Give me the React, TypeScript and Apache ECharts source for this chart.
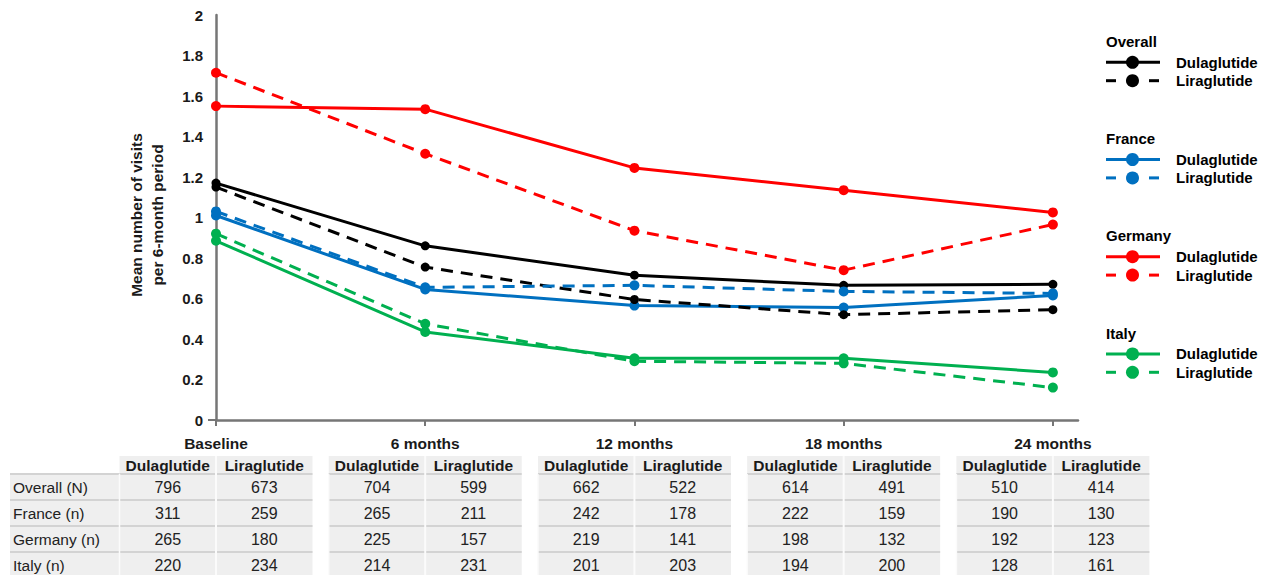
import React, { useEffect, useRef } from "react";
import * as echarts from "echarts";

// Timepoints on the x axis
const timepoints = ["Baseline", "6 months", "12 months", "18 months", "24 months"];
const xPositions = [0, 1, 2, 3, 4];

// Groups, colours and treatments
const groups = ["Overall", "France", "Germany", "Italy"];
const groupColors = ["#000000", "#0070C0", "#FF0000", "#00B050"];
const treatments = ["Dulaglutide", "Liraglutide"];

// Mean number of visits per 6-month period
const overallDula = [1.17, 0.86, 0.715, 0.665, 0.67];
const overallLira = [1.15, 0.755, 0.595, 0.52, 0.545];
const franceDula = [1.01, 0.645, 0.565, 0.555, 0.615];
const franceLira = [1.03, 0.655, 0.665, 0.635, 0.625];
const germanyDula = [1.55, 1.535, 1.245, 1.135, 1.025];
const germanyLira = [1.715, 1.315, 0.935, 0.74, 0.965];
const italyDula = [0.885, 0.435, 0.305, 0.305, 0.235];
const italyLira = [0.92, 0.475, 0.29, 0.28, 0.16];

// Patient counts per timepoint
const rowLabels = ["Overall (N)", "France (n)", "Germany (n)", "Italy (n)"];
const overallNDula = [796, 704, 662, 614, 510];
const overallNLira = [673, 599, 522, 491, 414];
const franceNDula = [311, 265, 242, 222, 190];
const franceNLira = [259, 211, 178, 159, 130];
const germanyNDula = [265, 225, 219, 198, 192];
const germanyNLira = [180, 157, 141, 132, 123];
const italyNDula = [220, 214, 201, 194, 128];
const italyNLira = [234, 231, 203, 200, 161];

const yTicks = [0, 0.2, 0.4, 0.6, 0.8, 1, 1.2, 1.4, 1.6, 1.8, 2];

const FONT = "'Liberation Sans', Arial, sans-serif";
const AXIS_COLOR = "#767676";
const TEXT_COLOR = "#1a1a1a";
const DASH = [12, 8];

const meanSeries = [
  [overallDula, overallLira],
  [franceDula, franceLira],
  [germanyDula, germanyLira],
  [italyDula, italyLira],
];
const countRows = [
  [overallNDula, overallNLira],
  [franceNDula, franceNLira],
  [germanyNDula, germanyNLira],
  [italyNDula, italyNLira],
];

function buildSeries() {
  const out: any[] = [];
  groups.forEach((g, gi) => {
    treatments.forEach((t, ti) => {
      out.push({
        name: `${g} ${t}`,
        type: "line",
        data: meanSeries[gi][ti].map((v, i) => [xPositions[i], v]),
        symbol: "circle",
        symbolSize: gi === 0 ? 9 : 10,
        lineStyle: { color: groupColors[gi], width: 3, type: ti === 0 ? "solid" : DASH },
        itemStyle: { color: groupColors[gi] },
        z: 3 + ti,
      });
    });
  });
  return out;
}

function legendGraphics() {
  const els: any[] = [];
  const x0 = 1106;
  groups.forEach((g, gi) => {
    const top = 41.5 + gi * 97.2;
    els.push({
      type: "text",
      x: x0,
      y: top,
      style: { text: g, fill: "#000", fontSize: 15, fontWeight: "bold", fontFamily: FONT, align: "left", verticalAlign: "middle" },
    });
    treatments.forEach((t, ti) => {
      const y = top + (ti === 0 ? 20.8 : 39.2);
      const color = groupColors[gi];
      if (ti === 0) {
        els.push({ type: "line", shape: { x1: x0, y1: y, x2: x0 + 54, y2: y }, style: { stroke: color, lineWidth: 3 } });
      } else {
        els.push({ type: "line", shape: { x1: x0, y1: y, x2: x0 + 10, y2: y }, style: { stroke: color, lineWidth: 3 } });
        els.push({ type: "line", shape: { x1: x0 + 43, y1: y, x2: x0 + 53, y2: y }, style: { stroke: color, lineWidth: 3 } });
      }
      els.push({ type: "circle", shape: { cx: x0 + 26.5, cy: y, r: 6.5 }, style: { fill: color } });
      els.push({
        type: "text",
        x: 1176,
        y,
        style: { text: t, fill: "#000", fontSize: 15, fontWeight: "bold", fontFamily: FONT, align: "left", verticalAlign: "middle" },
      });
    });
  });
  return els;
}

function tableGraphics(cx: number[]) {
  const els: any[] = [];
  const colW = 96.5;
  const headTop = 456;
  const headH = 18;
  const rowH = 26;
  const bodyTop = headTop + headH;
  const bodyBottom = bodyTop + rowH * rowLabels.length;
  const fill = "#efefef";
  const hLine = "#d3d3d3";
  const labelLeft = 10;

  // row label column
  const labelRight = cx[0] - colW;
  els.push({ type: "rect", shape: { x: labelLeft, y: bodyTop, width: labelRight - labelLeft, height: bodyBottom - bodyTop }, style: { fill } });
  rowLabels.forEach((lab, r) => {
    els.push({
      type: "text",
      x: labelLeft + 3,
      y: bodyTop + rowH * r + rowH / 2,
      style: { text: lab, fill: "#222", fontSize: 15.5, fontFamily: FONT, align: "left", verticalAlign: "middle" },
    });
  });
  for (let r = 0; r < rowLabels.length; r++) {
    els.push({ type: "line", shape: { x1: labelLeft, y1: bodyTop + rowH * r, x2: labelRight, y2: bodyTop + rowH * r }, style: { stroke: hLine, lineWidth: 2 } });
  }

  cx.forEach((c, i) => {
    const left = c - colW;
    const right = c + colW;
    els.push({ type: "rect", shape: { x: left, y: headTop, width: right - left, height: bodyBottom - headTop }, style: { fill } });
    for (let r = 0; r < rowLabels.length; r++) {
      els.push({ type: "line", shape: { x1: left, y1: bodyTop + rowH * r, x2: right, y2: bodyTop + rowH * r }, style: { stroke: hLine, lineWidth: 2 } });
    }
    els.push({ type: "line", shape: { x1: c, y1: headTop, x2: c, y2: bodyBottom }, style: { stroke: "#fbfbfb", lineWidth: 2 } });
    els.push({ type: "line", shape: { x1: left, y1: bodyTop, x2: left, y2: bodyBottom }, style: { stroke: "#fbfbfb", lineWidth: 1.5 } });
    treatments.forEach((t, ti) => {
      const mid = ti === 0 ? c - colW / 2 : c + colW / 2;
      els.push({
        type: "text",
        x: mid,
        y: headTop + headH / 2 + 0.5,
        style: { text: t, fill: "#1a1a1a", fontSize: 15.5, fontWeight: "bold", fontFamily: FONT, align: "center", verticalAlign: "middle" },
      });
      countRows.forEach((row, r) => {
        els.push({
          type: "text",
          x: mid,
          y: bodyTop + rowH * r + rowH / 2,
          style: { text: String(row[ti][i]), fill: "#222", fontSize: 16, fontFamily: FONT, align: "center", verticalAlign: "middle" },
        });
      });
    });
  });
  return els;
}

export default function App() {
  const ref = useRef<HTMLDivElement>(null);

  useEffect(() => {
    document.body.style.margin = "0";
    if (!ref.current) return;
    const chart = echarts.init(ref.current, null, { renderer: "svg" });
    chart.setOption({
      animation: false,
      backgroundColor: "#ffffff",
      grid: { left: 216, right: 191, top: 15, bottom: 155, containLabel: false },
      xAxis: {
        type: "value",
        min: 0,
        max: 4.12,
        interval: 1,
        axisLine: { show: true, onZero: false, lineStyle: { color: AXIS_COLOR, width: 2.5 } },
        axisTick: { show: true, customValues: xPositions, length: 6, lineStyle: { color: AXIS_COLOR, width: 2 } },
        axisLabel: {
          customValues: xPositions,
          formatter: (v: number) => timepoints[Math.round(v)] ?? "",
          fontSize: 15.5,
          fontWeight: "bold",
          fontFamily: FONT,
          color: TEXT_COLOR,
          margin: 15,
        },
        splitLine: { show: false },
      },
      yAxis: {
        type: "value",
        min: 0,
        max: 2,
        interval: 0.2,
        axisLine: { show: true, lineStyle: { color: AXIS_COLOR, width: 2.5 } },
        axisTick: { show: true, customValues: [0], length: 8, lineStyle: { color: AXIS_COLOR, width: 2 } },
        axisLabel: {
          customValues: yTicks,
          formatter: (v: number) => String(Math.round(v * 10) / 10),
          fontSize: 15,
          fontWeight: "bold",
          fontFamily: FONT,
          color: TEXT_COLOR,
          margin: 13,
        },
        splitLine: { show: false },
      },
      series: buildSeries(),
    });

    const cx = xPositions.map((v) => chart.convertToPixel({ xAxisIndex: 0 }, v) as number);

    chart.setOption({
      graphic: [
        {
          type: "text",
          x: 147,
          y: 215,
          rotation: Math.PI / 2,
          style: {
            text: "Mean number of visits\nper 6-month period",
            fill: TEXT_COLOR,
            fontSize: 15.5,
            fontWeight: "bold",
            fontFamily: FONT,
            align: "center",
            verticalAlign: "middle",
            lineHeight: 20.5,
          },
        },
        ...legendGraphics(),
        ...tableGraphics(cx),
      ],
    });

    return () => chart.dispose();
  }, []);

  return <div ref={ref} style={{ width: 1269, height: 575 }} />;
}
